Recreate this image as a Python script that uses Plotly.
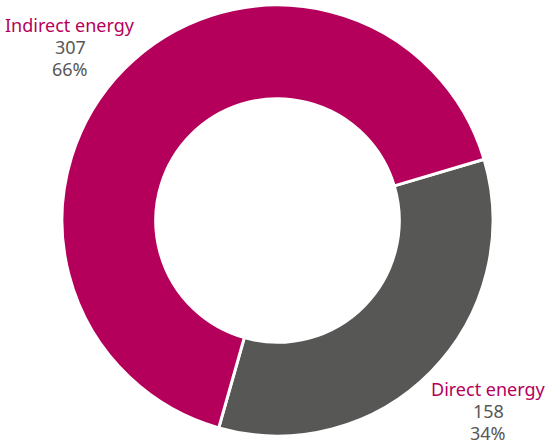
import plotly.graph_objects as go

labels = ["Direct energy", "Indirect energy"]
values = [158, 307]
colors = ["#575756", "#B5005B"]

W, H = 547, 444
MT, MB = 5, 8
total = sum(values)

fig = go.Figure(go.Pie(
    labels=labels,
    values=values,
    hole=0.565,
    sort=False,
    direction="clockwise",
    rotation=73.5,
    marker=dict(colors=colors, line=dict(color="white", width=3)),
    textinfo="none",
    hoverinfo="label+value+percent",
    domain=dict(x=[(277.5 - 215.5) / W, (277.5 + 215.5) / W], y=[0, 1]),
    showlegend=False,
))

# centre of first text line (px from top-left) for each label
label_pos = {"Indirect energy": (70, 25), "Direct energy": (488, 389)}
LINE = 22
annotations = []
for lab, val, col in zip(labels, values, colors):
    px, py = label_pos[lab]
    pct = round(val / total * 100)
    lines = [(lab, "#B5005B"), (str(val), "#575756"), (f"{pct}%", "#575756")]
    for i, (t, c) in enumerate(lines):
        yy = py + i * LINE
        annotations.append(dict(
            x=px / W, y=1 - (yy - MT) / (H - MT - MB), xref="paper", yref="paper",
            text=t, showarrow=False, xanchor="center", yanchor="middle",
            font=dict(family="Noto Sans", size=18, color=c),
        ))

fig.update_layout(
    width=W, height=H,
    margin=dict(l=0, r=0, t=MT, b=MB),
    paper_bgcolor="white", plot_bgcolor="white",
    annotations=annotations,
)
fig.write_html("out.html", config={"displayModeBar": False},
               post_script="document.body.style.margin='0';document.body.style.overflow='hidden';")
